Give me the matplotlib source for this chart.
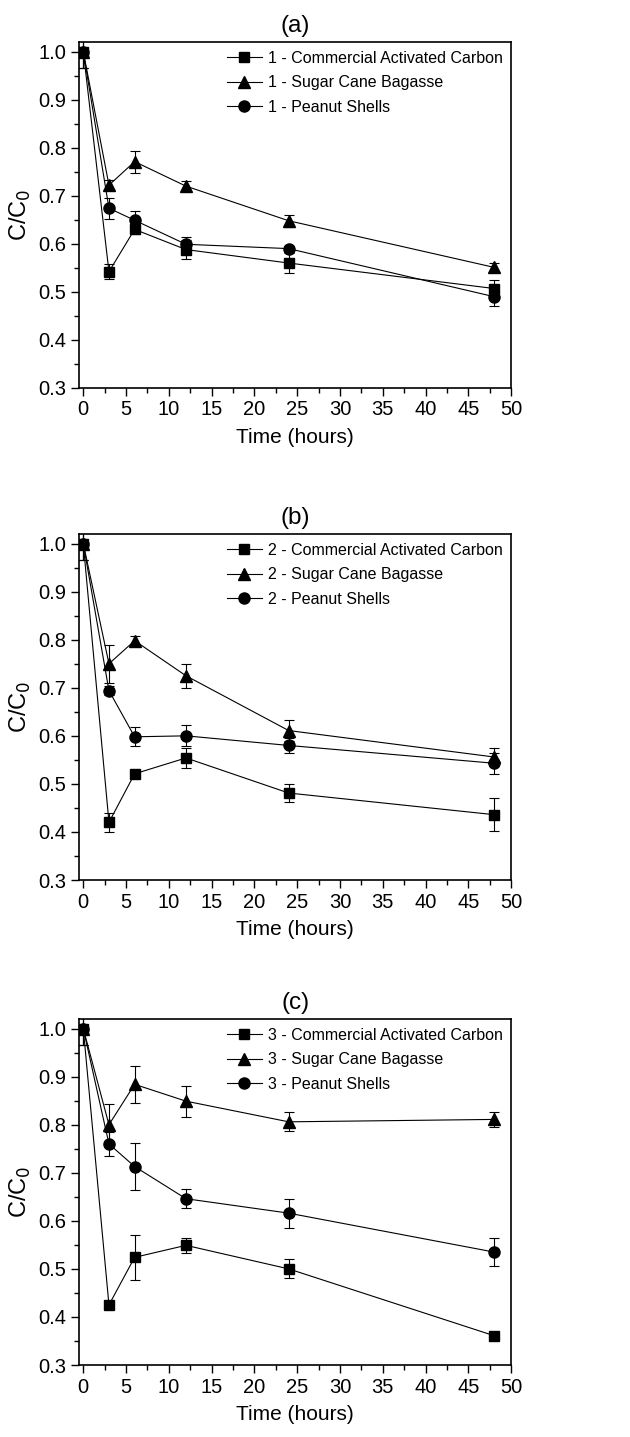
import numpy as np
import matplotlib.pyplot as plt
from matplotlib.ticker import MultipleLocator

plt.rcParams['font.family'] = ['Liberation Sans', 'DejaVu Sans']

time_h = [0, 3, 6, 12, 24, 48]
panel_tags = ['(a)', '(b)', '(c)']
materials = ['Commercial Activated Carbon', 'Sugar Cane Bagasse', 'Peanut Shells']
markers = ['s', '^', 'o']
marker_sizes = [7.5, 8.5, 8]

# panel (a)
cac_1 = [1.0, 0.542, 0.630, 0.588, 0.560, 0.507]
cac_1_err = [0.035, 0.015, 0.01, 0.02, 0.02, 0.017]
scb_1 = [1.0, 0.722, 0.771, 0.720, 0.648, 0.551]
scb_1_err = [0.035, 0.01, 0.023, 0.01, 0.012, 0.01]
ps_1 = [1.0, 0.674, 0.649, 0.599, 0.590, 0.490]
ps_1_err = [0.035, 0.022, 0.02, 0.015, 0.005, 0.02]

# panel (b)
cac_2 = [1.0, 0.420, 0.521, 0.554, 0.481, 0.436]
cac_2_err = [0.035, 0.02, 0.005, 0.02, 0.018, 0.035]
scb_2 = [1.0, 0.750, 0.798, 0.725, 0.611, 0.556]
scb_2_err = [0.035, 0.04, 0.01, 0.025, 0.022, 0.018]
ps_2 = [1.0, 0.694, 0.598, 0.600, 0.580, 0.543]
ps_2_err = [0.035, 0.01, 0.02, 0.022, 0.015, 0.022]

# panel (c)
cac_3 = [1.0, 0.425, 0.524, 0.549, 0.500, 0.361]
cac_3_err = [0.035, 0.006, 0.047, 0.015, 0.02, 0.008]
scb_3 = [1.0, 0.800, 0.884, 0.849, 0.806, 0.811]
scb_3_err = [0.035, 0.043, 0.039, 0.032, 0.02, 0.016]
ps_3 = [1.0, 0.760, 0.713, 0.646, 0.616, 0.535]
ps_3_err = [0.035, 0.025, 0.048, 0.02, 0.03, 0.03]

panels = [
    ([cac_1, scb_1, ps_1], [cac_1_err, scb_1_err, ps_1_err]),
    ([cac_2, scb_2, ps_2], [cac_2_err, scb_2_err, ps_2_err]),
    ([cac_3, scb_3, ps_3], [cac_3_err, scb_3_err, ps_3_err]),
]

fig = plt.figure(figsize=(6.3, 14.37), dpi=100)
bottoms = [0.730, 0.3876, 0.0501]

for p, (series, errs) in enumerate(panels):
    ax = fig.add_axes([0.1254, bottoms[p], 0.686, 0.2408])
    for s in range(3):
        ax.errorbar(time_h, series[s], yerr=errs[s], color='black', marker=markers[s],
                     markersize=marker_sizes[s], linewidth=0.8, elinewidth=0.8, capsize=3.5,
                     capthick=0.8, label=str(p + 1) + ' - ' + materials[s])
    ax.set_xlim(-0.5, 50)
    ax.set_ylim(0.3, 1.02)
    ax.xaxis.set_major_locator(MultipleLocator(5))
    ax.xaxis.set_minor_locator(MultipleLocator(2.5))
    ax.yaxis.set_major_locator(MultipleLocator(0.1))
    ax.yaxis.set_minor_locator(MultipleLocator(0.05))
    ax.yaxis.set_major_formatter(plt.FormatStrFormatter('%.1f'))
    ax.tick_params(which='major', direction='out', length=6, width=1, labelsize=14.5, pad=3)
    ax.tick_params(which='minor', direction='out', length=3.5, width=1)
    for sp in ax.spines.values():
        sp.set_linewidth(1.2)
    ax.set_xlabel('Time (hours)', fontsize=15, labelpad=6)
    ax.set_ylabel('C/C$_0$', fontsize=17, labelpad=4)
    ax.set_title(panel_tags[p], fontsize=17.5, pad=7)
    handles, labels = ax.get_legend_handles_labels()
    handles = [h[0] for h in handles]
    ax.legend(handles, labels, loc='upper right', frameon=False, fontsize=11.5,
              handlelength=2.2, handletextpad=0.35, labelspacing=0.6,
              borderaxespad=0.15)

fig.savefig('out.png', dpi=100)
